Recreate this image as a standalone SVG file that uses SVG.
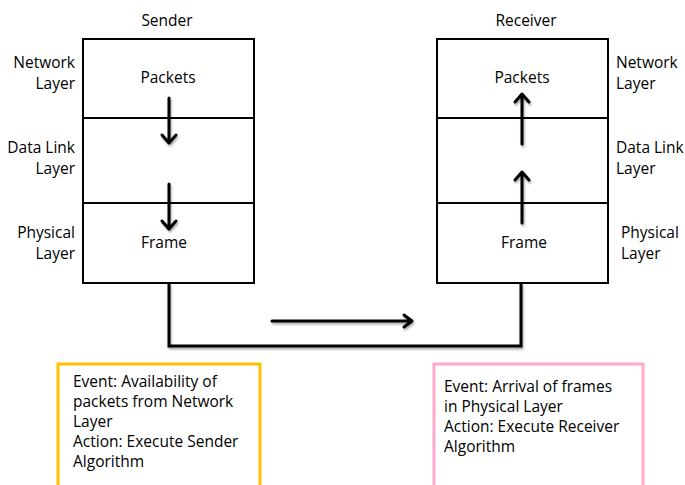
<svg xmlns="http://www.w3.org/2000/svg" width="685" height="485" viewBox="0 0 685 485">
<style>
text{font-family:"Open Sans","Liberation Sans",sans-serif;font-size:15.5px;fill:#000}
.layer{fill:#fff;stroke:#000;stroke-width:2}
.mid{text-anchor:middle}
.end{text-anchor:end}
.arr{fill:none;stroke:#000;stroke-width:3;stroke-linecap:round;stroke-linejoin:round}
.conn{fill:none;stroke:#000;stroke-width:3;stroke-linejoin:miter}
</style>
<defs>
<filter id="sh" x="-10%" y="-10%" width="130%" height="140%">
<feGaussianBlur in="SourceAlpha" stdDeviation="1.2"/>
<feOffset dx="1" dy="2" result="b"/>
<feComponentTransfer><feFuncA type="linear" slope="0.35"/></feComponentTransfer>
<feMerge><feMergeNode/><feMergeNode in="SourceGraphic"/></feMerge>
</filter>
</defs>
<rect width="685" height="485" fill="#fff"/>

<g id="sender">
<text class="mid" x="167" y="26">Sender</text>
<rect class="layer" x="83" y="39" width="171" height="79"/>
<rect class="layer" x="83" y="118" width="171" height="85"/>
<rect class="layer" x="83" y="203" width="171" height="80"/>
<text class="mid" x="168" y="83">Packets</text>
<text class="mid" x="164" y="248">Frame</text>
<text class="end" x="75" y="68">Network</text>
<text class="end" x="75" y="89">Layer</text>
<text class="end" x="75" y="153">Data Link</text>
<text class="end" x="75" y="174">Layer</text>
<text class="end" x="75" y="238">Physical</text>
<text class="end" x="75" y="259">Layer</text>
</g>

<g id="receiver">
<text class="mid" x="526" y="26">Receiver</text>
<rect class="layer" x="437" y="39" width="171" height="79"/>
<rect class="layer" x="437" y="118" width="171" height="85"/>
<rect class="layer" x="437" y="203" width="171" height="80"/>
<text class="mid" x="522" y="83">Packets</text>
<text class="mid" x="524" y="248">Frame</text>
<text x="616" y="68">Network</text>
<text x="616" y="89">Layer</text>
<text x="616" y="153">Data Link</text>
<text x="616" y="174">Layer</text>
<text x="621" y="238">Physical</text>
<text x="621" y="259">Layer</text>
</g>

<g id="sender-event">
<rect x="58" y="364" width="202" height="130" fill="#fff" stroke="#FFC000" stroke-width="3"/>
<text x="73" y="387">Event: Availability of</text>
<text x="73" y="407">packets from Network</text>
<text x="73" y="427">Layer</text>
<text x="73" y="447">Action: Execute Sender</text>
<text x="73" y="467">Algorithm</text>
</g>

<g id="receiver-event">
<rect x="434" y="364" width="209" height="130" fill="#fff" stroke="#FFAACC" stroke-width="3"/>
<text x="444" y="392">Event: Arrival of frames</text>
<text x="444" y="412">in Physical Layer</text>
<text x="444" y="432">Action: Execute Receiver</text>
<text x="444" y="452">Algorithm</text>
</g>

<g id="connectors" filter="url(#sh)">
<path class="arr" d="M169 98V142M162 135L169 143L176 135"/>
<path class="arr" d="M169 184V228M162 221L169 229L176 221"/>
<path class="arr" d="M522 144V96M515 102L522 94L529 102"/>
<path class="arr" d="M522 223V174M515 180L522 172L529 180"/>
<path class="conn" d="M169 283V346H521V283"/>
<path class="arr" d="M272 321H412M404 315L412 321L404 327"/>
</g>
</svg>
